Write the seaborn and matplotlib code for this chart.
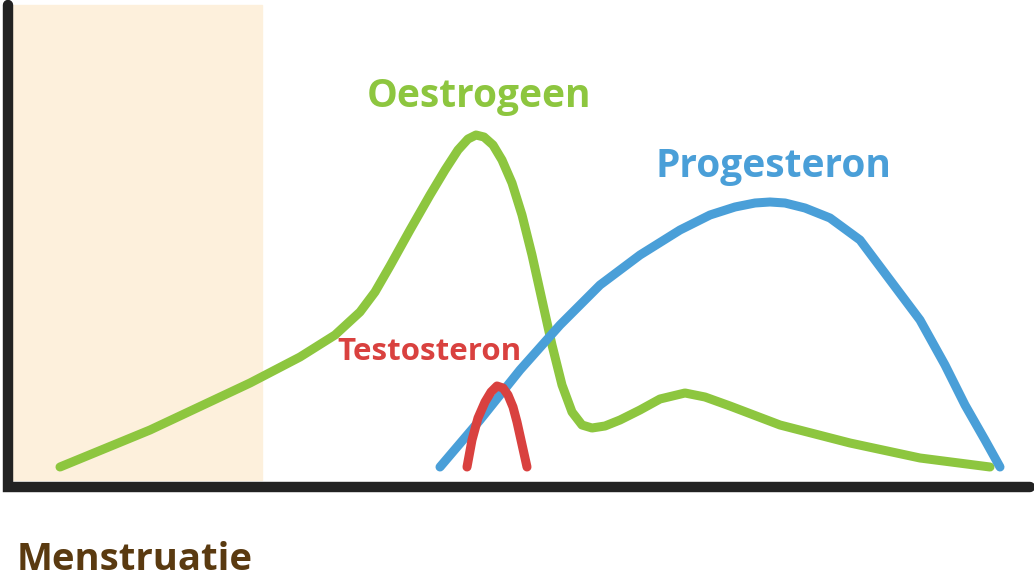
import matplotlib
matplotlib.use("Agg")
import matplotlib.pyplot as plt
import seaborn as sns
import pandas as pd

# curve control points (x = cycle position, y = level, in picture units; y grows downward)
green_x = [60,150,250,300,335,360,375,390,410,430,445,458,468,476,484,493,502,512,522,532,542,552,562,572,582,592,605,620,640,660,685,705,730,780,850,920,990]
green_y = [467,430,383,357,335,312,292,266,230,195,170,150,139,135,137,145,160,183,215,255,300,345,385,412,425,428,426,420,410,399,393,397,406,425,443,458,467]
blue_x = [440,480,520,560,600,640,680,710,735,755,770,785,805,830,860,890,920,945,965,985,1000]
blue_y = [467,420,370,325,285,255,230,215,207,203,202,203,208,218,240,280,320,365,405,440,467]
red_x = [467,472,478,485,491,497,503,508,513,517,521,527]
red_y = [467,440,418,402,392,386,388,395,407,422,440,467]

labels = ["Oestrogeen", "Progesteron", "Testosteron", "Menstruatie"]
label_pos = [(479, 97), (773, 167), (429, 352), (135, 560)]
label_col = ["#8dc63f", "#4a9fd8", "#d9413f", "#5a3a10"]
label_size = [28, 28, 22.5, 27.5]

fig = plt.figure(figsize=(10.34, 5.82), dpi=100)
ax = fig.add_axes([0, 0, 1, 1])
ax.set_xlim(0, 1034)
ax.set_ylim(582, 0)
ax.axis("off")

ax.axvspan(12, 262, ymin=(582-480)/582, ymax=(582-5)/582, color="#fdf0dc", zorder=0)

for xs, ys, c in [(green_x, green_y, "#8dc63f"), (blue_x, blue_y, "#4a9fd8"), (red_x, red_y, "#d9413f")]:
    df = pd.DataFrame({"x": xs, "y": ys})
    sns.lineplot(data=df, x="x", y="y", sort=False, ax=ax, color=c, linewidth=6.5,
                 solid_capstyle="round", solid_joinstyle="round", zorder=2)

ax.plot([8, 8, 1030], [5, 487, 487], color="#222222", linewidth=7.5, solid_capstyle="round",
        solid_joinstyle="miter", zorder=3)

for t, (x, y), c, s in zip(labels, label_pos, label_col, label_size):
    ax.text(x, y, t, color=c, fontsize=s, fontweight="bold", family="Open Sans",
            ha="center", va="center", zorder=4)

ax.set_xlabel(""); ax.set_ylabel("")
fig.savefig("out.png", dpi=100)
